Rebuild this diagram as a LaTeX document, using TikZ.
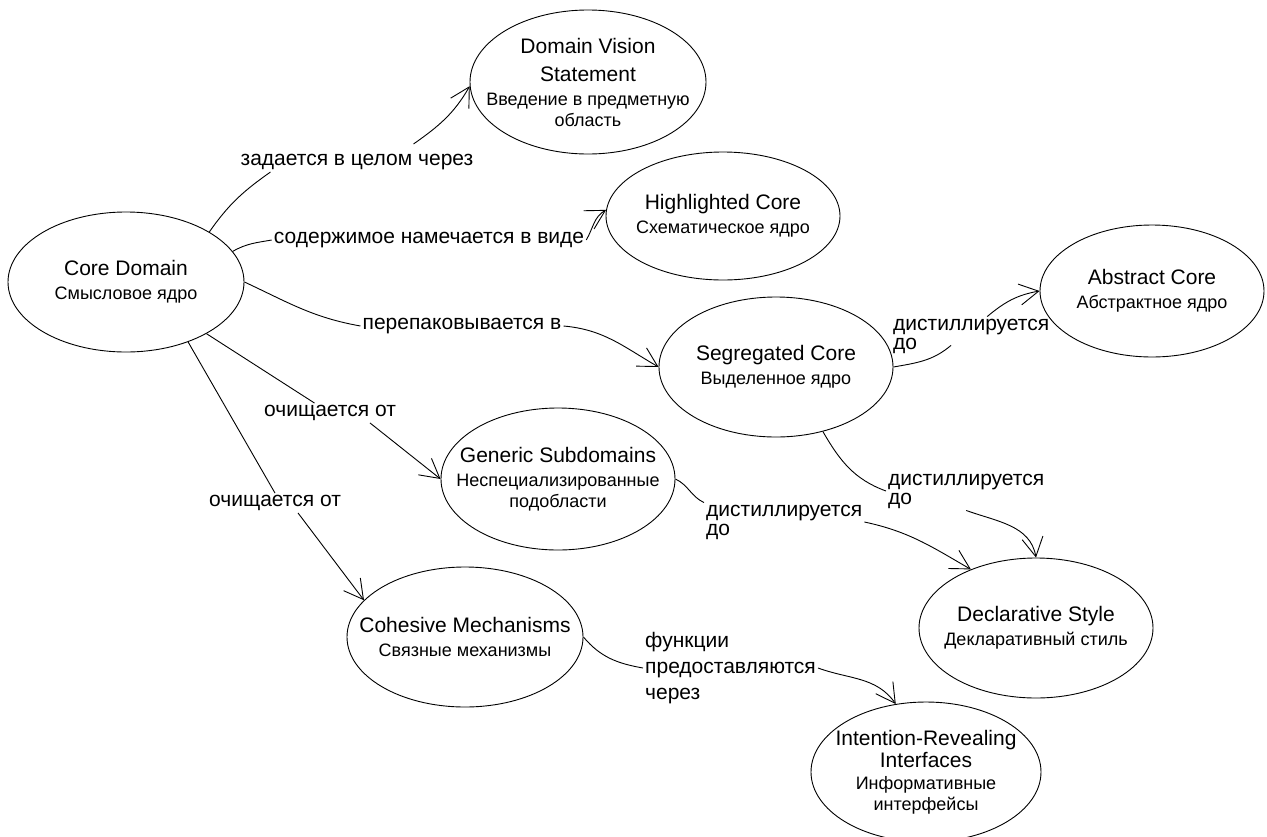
\documentclass[tikz,border=0pt]{standalone}
\usepackage{fontspec}
\setmainfont{Liberation Sans}
\usepackage{tikz}
\usetikzlibrary{arrows.meta,shapes.geometric,calc}
\newcommand{\titlefont}{\fontsize{21}{24}\selectfont}
\newcommand{\subt}[1]{{\fontsize{18}{20}\selectfont #1}}
\tikzset{
concepttext/.style={
inner sep=0pt,
align=center,
font=\titlefont
},
concept/.style n args={3}{
draw,
ellipse,
line width=0.9pt,
inner sep=0pt,
minimum width=#1,
minimum height=#2,
label={[concepttext]center:{#3}}
},
rel/.style={
inner sep=2pt,
font=\titlefont
},
flow/.style={
line width=0.9pt
},
arrow/.style={
flow,
-{Straight Barb[length=19pt,width=21pt,line width=0.9pt]}
}
}
\begin{document}
\begin{tikzpicture}[x=1pt,y=1pt]
\useasboundingbox (0,0) rectangle (1267,-836);
% concepts
\node[concept={236pt}{140pt}{Core Domain\\\subt{Смысловое ядро}}](core) at (126,-282){};
\node[concept={236pt}{144pt}{Domain Vision\\[4pt]Statement\\\subt{Введение в предметную}\\[-3pt]\subt{область}}](vision) at (588,-82){};
\node[concept={234pt}{128pt}{Highlighted Core\\\subt{Схематическое ядро}}](highlight) at (723,-216){};
\node[concept={224pt}{132pt}{Abstract Core\\\subt{Абстрактное ядро}}](abstract) at (1152,-291){};
\node[concept={234pt}{140pt}{Segregated Core\\\subt{Выделенное ядро}}](segregated) at (776,-367){};
\node[concept={234pt}{142pt}{Generic Subdomains\\\subt{Неспециализированные}\\[-3pt]\subt{подобласти}}](generic) at (558,-479){};
\node[concept={236pt}{140pt}{Cohesive Mechanisms\\\subt{Связные механизмы}}](cohesive) at (465,-637){};
\node[concept={234pt}{140pt}{Declarative Style\\\subt{Декларативный стиль}}](declarative) at (1036,-628){};
\node[concept={230pt}{140pt}{Intention-Revealing\\[-2pt]Interfaces\\[-2pt]\subt{Информативные}\\[-3pt]\subt{интерфейсы}}](intention) at (926,-772){};

% relation labels
\node[rel](l1) at (357,-162){задается в целом через};
\node[rel](l2) at (429,-240){содержимое намечается в виде};
\node[rel](l3) at (462,-326){перепаковывается в};
\node[rel,anchor=west,align=left](l4) at (891,-336){дистиллируется\\[-5pt]до};
\node[rel](l5) at (330,-413){очищается от};
\node[rel](l6) at (275,-503){очищается от};
\node[rel,anchor=west,align=left](l7) at (886,-491){дистиллируется\\[-5pt]до};
\node[rel,anchor=west,align=left](l8) at (704,-522){дистиллируется\\[-5pt]до};
\node[rel,anchor=west,align=left](l9) at (643,-668){функции\\[2pt]предоставляются\\[2pt]через};

% connectors
\draw[flow](core.31) to[out=55,in=215] ([xshift=32pt]l1.south west);
\draw[arrow]([shift={(-62pt,8pt)}]l1.north east) to[out=35,in=240] (vision.182);
\draw[flow](core.16) to[out=30,in=190] (l2.west);
\draw[arrow](l2.east) to[out=60,in=210] (highlight.177);
\draw[flow](core.east) to[out=-25,in=170] (l3.west);
\draw[arrow](l3.east) to[out=-5,in=150] (segregated.west);
\draw[flow](core) -- (l5);
\draw[arrow]([xshift=40pt]l5.south) -- (generic.west);
\draw[flow](core.316) -- (l6.north);
\draw[arrow]([xshift=23pt]l6.south) -- (cohesive.160);
\draw[flow](segregated.east) to[out=10,in=220] ([shift={(60pt,10pt)}]l4.south west);
\draw[arrow]([xshift=16pt]l4.north) to[out=40,in=190] (abstract.west);
\draw[flow](segregated.306) to[out=-60,in=160] (l7.west);
\draw[arrow](l7.south) to[out=-20,in=100] (declarative.north);
\draw[flow](generic.east) to[out=-25,in=155] (l8.north west);
\draw[arrow](l8.east) to[out=-12,in=150] (declarative.138);
\draw[flow](cohesive.east) to[out=-50,in=170] (l9.west);
\draw[arrow](l9.east) to[out=-20,in=125] (intention.114);
\end{tikzpicture}
\end{document}
